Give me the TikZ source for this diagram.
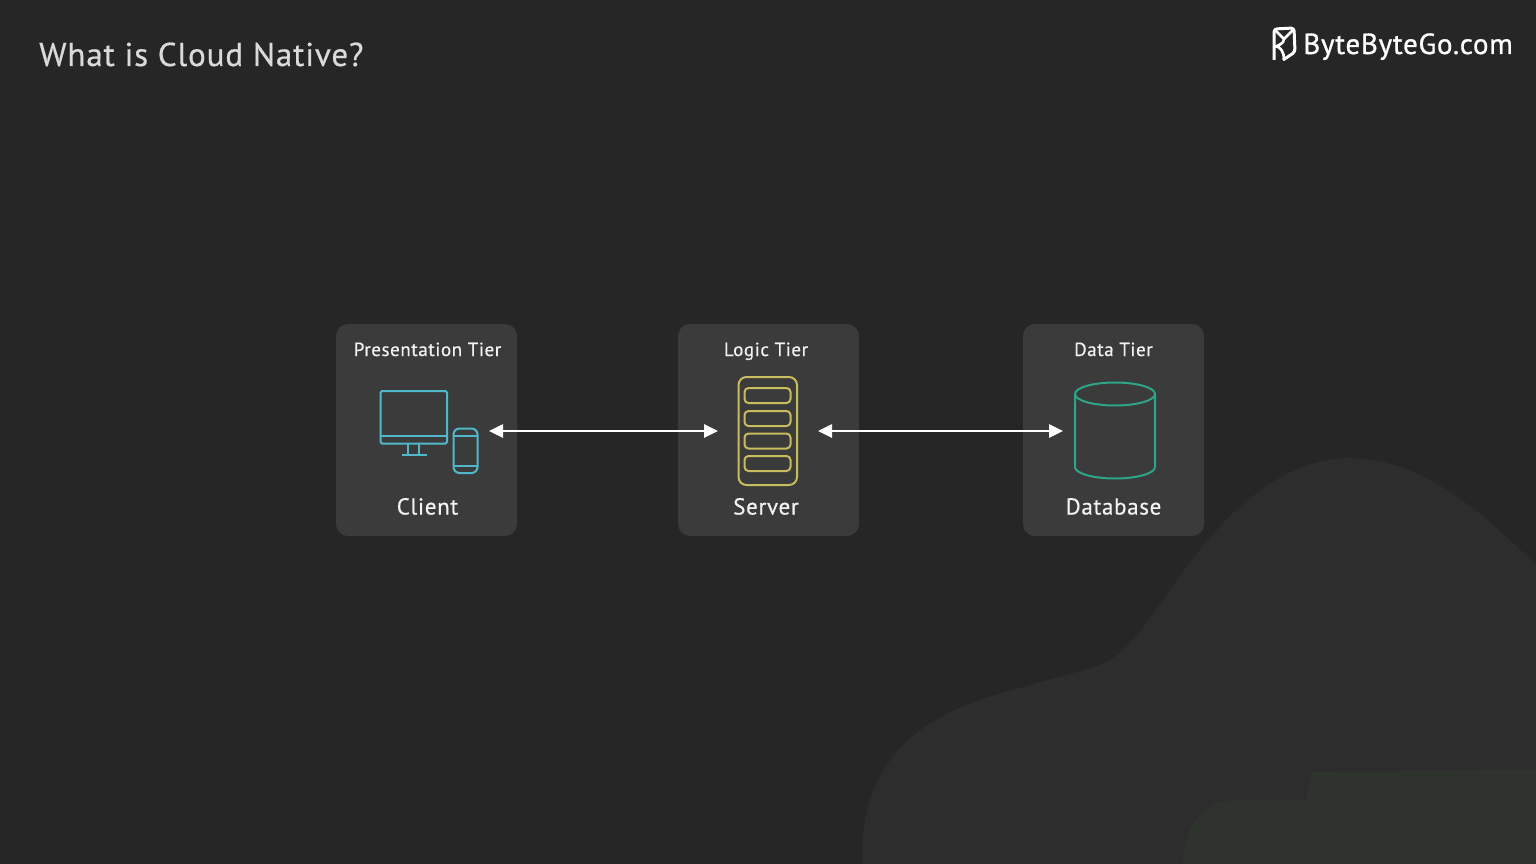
\documentclass[tikz,border=0pt]{standalone}
\usepackage{fontspec}
\setmainfont{PT Sans}
\usetikzlibrary{positioning,calc,arrows.meta}

\definecolor{bgcol}{HTML}{262626}
\definecolor{blobcol}{HTML}{2D2D2D}
\definecolor{greencol}{HTML}{2F332D}
\definecolor{tiercol}{HTML}{3B3B3B}
\definecolor{clientcol}{HTML}{4FB8CB}
\definecolor{servercol}{HTML}{C9BC5C}
\definecolor{datacol}{HTML}{2FA588}
\definecolor{textcol}{HTML}{F2F2F2}

\tikzset{
  tier/.style={fill=tiercol, rounded corners=12pt, minimum width=181pt, minimum height=212pt, inner sep=0pt},
  tiername/.style={anchor=base, text=textcol, inner sep=0pt, font=\fontsize{19}{22}\selectfont\addfontfeature{FakeBold=0.5,LetterSpace=3}},
  itemname/.style={anchor=base, text=textcol, inner sep=0pt, font=\fontsize{23}{26}\selectfont\addfontfeature{FakeBold=0.5,LetterSpace=3}},
  iconbox/.style={inner sep=0pt, outer sep=0pt},
  link/.style={white, line width=2.6pt, {Triangle[width=13pt,length=14pt]}-{Triangle[width=13pt,length=14pt]}},
  clientline/.style={draw=clientcol, line width=2pt},
  serverline/.style={draw=servercol, line width=2pt},
  dataline/.style={draw=datacol, line width=2pt},
}

\begin{document}
\begin{tikzpicture}[x=1pt, y=-1pt]
        \useasboundingbox (0,0) rectangle (1536,864);
        \fill[bgcol] (0,0) rectangle (1536,864);

        %background shapes
        \fill[blobcol] (862,864) .. controls (860,790) and (890,745) .. (941,717)
            .. controls (985,692) and (1060,680) .. (1105,663)
            .. controls (1140,645) and (1165,590) .. (1208,540)
            .. controls (1250,490) and (1300,458) .. (1349,458)
            .. controls (1420,458) and (1480,510) .. (1536,565)
            -- (1536,864) -- cycle;
        \fill[greencol] (1183,864) .. controls (1185,825) and (1200,800) .. (1240,800)
            -- (1306,800) -- (1312,772) -- (1536,770) -- (1536,864) -- cycle;

        %title
        \node[anchor=base west, inner sep=0pt, text=textcol!90!black,
            font=\fontsize{33}{38}\selectfont\addfontfeature{FakeBold=0.5,LetterSpace=2.7}] (title) at (39,66) {What is Cloud Native?};

        %logo
        \node[anchor=base east, inner sep=0pt, text=white,
            font=\fontsize{29}{34}\selectfont\addfontfeature{FakeBold=0.9,LetterSpace=2.5}] (logo) at (1513,54) {ByteByteGo.com};
        \draw[white, line width=3pt, line join=round, rounded corners=3pt]
            (1274,60) -- (1274,29) -- (1294,28) -- (1295,52) -- (1283,60);
        \draw[white, line width=2.6pt, line join=round]
            (1275,30) -- (1284,39) -- (1294,29);
        \draw[white, line width=2.6pt]
            (1284,39) .. controls (1284,44) and (1278,45) .. (1275,47)
            (1275,46) .. controls (1281,47) and (1284,52) .. (1284,60);

        %tiers
        \node[tier] (Cl) at (426.5,430) {};
        \node[tier] (Sv) at (768.5,430) {};
        \node[tier] (Db) at (1113.5,430) {};

        \node[tiername] (ClTier) at (427.5,356) {Presentation Tier};
        \node[tiername] (SvTier) at (766,356) {Logic Tier};
        \node[tiername] (DbTier) at (1113.5,356) {Data Tier};

        \node[itemname] (ClName) at (427.5,514.5) {Client};
        \node[itemname] (SvName) at (766,514.5) {Server};
        \node[itemname] (DbName) at (1113.5,514.5) {Database};

        %icon places
        \node[iconbox, minimum width=120pt, minimum height=83pt] (ClIcon) at (429,431) {};
        \node[iconbox, minimum width=100pt, minimum height=108pt] (SvIcon) at (768,431) {};
        \node[iconbox, minimum width=105pt, minimum height=96pt] (DbIcon) at (1115.5,431) {};

        %client
        \draw[clientline, rounded corners=1.5pt] (380.5,391) rectangle (447,443.5);
        \draw[clientline] (380.5,436) -- (447,436);
        \draw[clientline] (408,443.5) -- (408,454.5) (419,443.5) -- (419,454.5);
        \draw[clientline] (401.5,455) -- (427,455);
        \draw[clientline, rounded corners=6pt] (453.5,428.5) rectangle (477.5,473);
        \draw[clientline] (453.5,435.5) -- (477.5,435.5) (453.5,466) -- (477.5,466);

        %server
        \draw[serverline, rounded corners=8pt] (738.5,377) rectangle (797,485);
        \foreach \top in {388,411,433.5,456}
            \draw[serverline, rounded corners=4pt] (744.5,\top) rectangle (790.5,\top+15);

        %database
        \draw[dataline] (1075,394) arc[start angle=180, end angle=-180, x radius=40, y radius=11.5];
        \draw[dataline] (1075,394) -- (1075,467) arc[start angle=180, end angle=0, x radius=40, y radius=11.5] -- (1155,394);

        %links
        \draw[link] (ClIcon) -- (SvIcon);
        \draw[link] (SvIcon) -- (DbIcon);
\end{tikzpicture}
\end{document}
